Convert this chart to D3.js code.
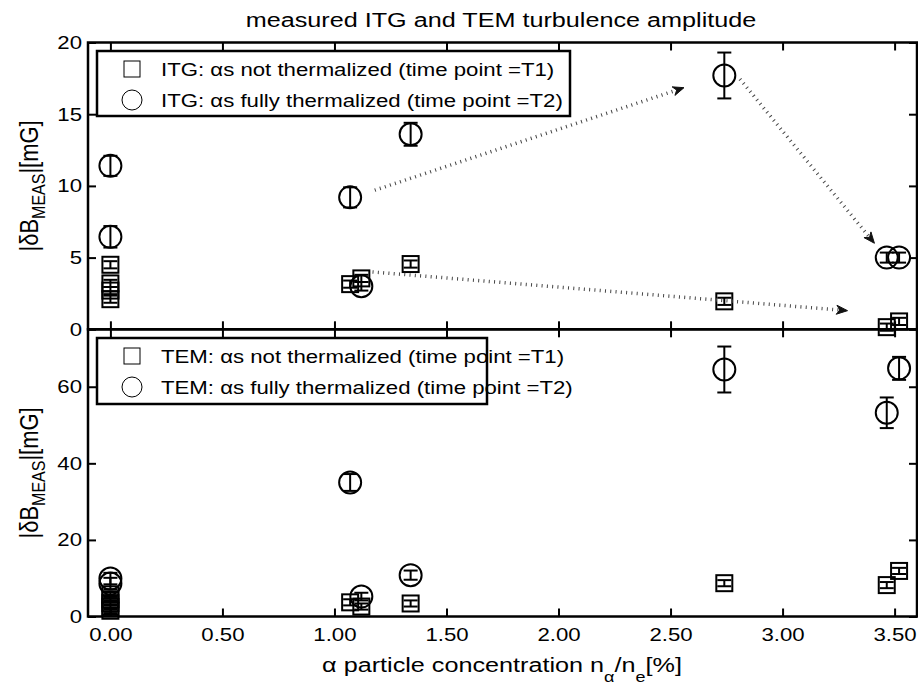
<!DOCTYPE html>
<html><head><meta charset="utf-8">
<script src="https://cdn.jsdelivr.net/npm/d3@7"></script>
<style>body{margin:0;background:#fff}</style>
</head><body>
<script>
// ---------- data ----------
const titleText = "measured ITG and TEM turbulence amplitude";
const xTickValues = [0, 0.5, 1, 1.5, 2, 2.5, 3, 3.5];
const itgTickValues = [0, 5, 10, 15, 20];
const temTickValues = [0, 20, 40, 60];
// [alpha concentration %, |dB| mG, error]
const itgT1 = [[0,4.5,0.25],[0,3.2,0.25],[0,2.7,0.25],[0,2.1,0.25],[1.07,3.15,0.25],[1.12,3.55,0.25],[1.34,4.55,0.25],[2.74,1.95,0.25],[3.465,0.15,0.25],[3.52,0.55,0.25]];
const itgT2 = [[0,11.4,0.7],[0,6.45,0.75],[1.07,9.2,0.7],[1.12,3.0,0.3],[1.34,13.6,0.8],[2.74,17.7,1.6],[3.465,5.0,0.35],[3.52,5.0,0.35]];
const temT1 = [[0,1.5,0.6],[0,2.5,0.6],[0,3.5,0.6],[0,4.5,0.6],[0,5.8,0.6],[1.07,3.7,0.8],[1.12,2.6,0.8],[1.34,3.4,0.8],[2.74,8.7,0.8],[3.465,8.2,0.8],[3.52,11.9,0.8]];
const temT2 = [[0,9.9,1.5],[0,8.6,1.5],[1.07,35.0,2.2],[1.12,5.2,1.0],[1.34,10.8,1.2],[2.74,64.5,6.0],[3.465,53.2,4.0],[3.52,64.8,3.0]];
// arrows in data units [x1,y1,x2,y2]
const itgArrows = [[1.18,9.7,2.56,16.85],[2.81,17.45,3.41,6.0],[1.17,4.0,3.29,1.3]];
const itgLegend = ["ITG: \u03b1s not thermalized (time point =T1)", "ITG: \u03b1s fully thermalized (time point =T2)"];
const temLegend = ["TEM: \u03b1s not thermalized (time point =T1)", "TEM: \u03b1s fully thermalized (time point =T2)"];

// ---------- layout ----------
const W = 918, H = 688, SX = 1.2;
const FONT = "'Liberation Sans', Arial, Helvetica, sans-serif";
const svg = d3.select("body").append("svg").attr("width", W).attr("height", H)
  .style("font-family", FONT);
svg.append("rect").attr("width", W).attr("height", H).attr("fill", "#fff");

const x = d3.scaleLinear().domain([-0.1, 3.6]).range([88, 917]);
const yTop = d3.scaleLinear().domain([0, 20]).range([329.3, 42.5]);
const yBot = d3.scaleLinear().domain([0, 75]).range([616.5, 329.3]);

const panels = [
  {y: yTop, ticks: itgTickValues, t1: itgT1, t2: itgT2, legend: itgLegend, arrows: itgArrows,
   leg: {x: 97, y: 51, w: 473, h: 65}, showX: false},
  {y: yBot, ticks: temTickValues, t1: temT1, t2: temT2, legend: temLegend, arrows: [],
   leg: {x: 97, y: 338, w: 390, h: 66}, showX: true}
];

function styleAxis(g, fs) {
  g.select(".domain").remove();
  g.selectAll(".tick line").attr("stroke", "#000").attr("stroke-width", 2);
  g.selectAll(".tick text").attr("fill", "#000").attr("font-size", fs)
    .attr("font-family", FONT)
    .attr("transform", `scale(${SX},1)`);
}

const CAP = 7;
function errorbars(g, data, y) {
  const eb = g.append("g").attr("stroke", "#000").attr("stroke-width", 2).attr("fill", "none");
  data.forEach(d => {
    const cx = x(d[0]), y1 = y(d[1] - d[2]), y2 = y(d[1] + d[2]);
    eb.append("line").attr("x1", cx).attr("x2", cx).attr("y1", y1).attr("y2", y2);
    eb.append("line").attr("x1", cx - CAP).attr("x2", cx + CAP).attr("y1", y1).attr("y2", y1);
    eb.append("line").attr("x1", cx - CAP).attr("x2", cx + CAP).attr("y1", y2).attr("y2", y2);
  });
}

panels.forEach(p => {
  const [yb, yt] = p.y.range();
  const g = svg.append("g");
  const ab = g.append("g").attr("transform", `translate(0,${yb})`)
    .call(d3.axisBottom(x).tickValues(xTickValues).tickSize(-8).tickPadding(11)
      .tickFormat(p.showX ? d3.format(".2f") : ""));
  styleAxis(ab, 18.5);
  const at = g.append("g").attr("transform", `translate(0,${yt})`)
    .call(d3.axisTop(x).tickValues(xTickValues).tickSize(-8).tickFormat(""));
  styleAxis(at, 18.5);
  const al = g.append("g").attr("transform", `translate(${x.range()[0]},0)`)
    .call(d3.axisLeft(p.y).tickValues(p.ticks).tickSize(-8).tickPadding(5).tickFormat(d3.format("d")));
  styleAxis(al, 18.5);
  const ar = g.append("g").attr("transform", `translate(${x.range()[1]},0)`)
    .call(d3.axisRight(p.y).tickValues(p.ticks).tickSize(-8).tickFormat(""));
  styleAxis(ar, 18.5);
  g.append("rect").attr("x", x.range()[0]).attr("y", yt)
    .attr("width", x.range()[1] - x.range()[0]).attr("height", yb - yt)
    .attr("fill", "none").attr("stroke", "#000").attr("stroke-width", 2.5);

  errorbars(g, p.t1, p.y);
  errorbars(g, p.t2, p.y);
  g.append("g").selectAll("rect").data(p.t1).join("rect")
    .attr("x", d => x(d[0]) - 8).attr("y", d => p.y(d[1]) - 8)
    .attr("width", 16).attr("height", 16)
    .attr("fill", "none").attr("stroke", "#000").attr("stroke-width", 2);
  g.append("g").selectAll("circle").data(p.t2).join("circle")
    .attr("cx", d => x(d[0])).attr("cy", d => p.y(d[1])).attr("r", 11)
    .attr("fill", "none").attr("stroke", "#000").attr("stroke-width", 2);

  p.arrows.forEach(a => {
    const x1 = x(a[0]), y1 = p.y(a[1]), x2 = x(a[2]), y2 = p.y(a[3]);
    const dx = x2 - x1, dy = y2 - y1, L = Math.hypot(dx, dy);
    const ux = dx / L, uy = dy / L, nx = -uy, ny = ux;
    const hl = 11, hw = 4.5;
    g.append("line").attr("x1", x1).attr("y1", y1)
      .attr("x2", x2 - ux * hl * 0.6).attr("y2", y2 - uy * hl * 0.6)
      .attr("stroke", "#444").attr("stroke-width", 3.5).attr("stroke-dasharray", "1,4.3");
    const bx = x2 - ux * hl, by = y2 - uy * hl;
    const ncx = x2 - ux * hl * 0.7, ncy = y2 - uy * hl * 0.7;
    g.append("path")
      .attr("d", `M${x2},${y2}L${bx + nx * hw},${by + ny * hw}L${ncx},${ncy}L${bx - nx * hw},${by - ny * hw}Z`)
      .attr("fill", "#111").attr("stroke", "#111").attr("stroke-width", 1);
  });

  const lg = g.append("g");
  lg.append("rect").attr("x", p.leg.x).attr("y", p.leg.y).attr("width", p.leg.w).attr("height", p.leg.h)
    .attr("fill", "#fff").attr("stroke", "#000").attr("stroke-width", 2.5);
  const r1 = p.leg.y + 18, r2 = p.leg.y + 49;
  lg.append("rect").attr("x", 132 - 8).attr("y", r1 - 8).attr("width", 16).attr("height", 16)
    .attr("fill", "none").attr("stroke", "#000").attr("stroke-width", 1);
  lg.append("circle").attr("cx", 132).attr("cy", r2).attr("r", 10)
    .attr("fill", "none").attr("stroke", "#000").attr("stroke-width", 1);
  [r1, r2].forEach((ry, i) => {
    lg.append("text").attr("transform", `translate(161,${ry + 6.5}) scale(${SX},1)`)
      .attr("font-size", 18.5).attr("fill", "#000").text(p.legend[i]);
  });

  const yc = (yt + yb) / 2;
  const yl = svg.append("text")
    .attr("transform", `translate(37.5,${yc}) scale(${SX},1) rotate(-90)`)
    .attr("text-anchor", "middle").attr("font-size", 22).attr("fill", "#000");
  yl.append("tspan").text("|\u03b4B");
  yl.append("tspan").attr("font-size", 16).attr("dy", 6).text("MEAS");
  yl.append("tspan").attr("dy", -6).text("|[mG]");
});

svg.append("text").attr("transform", `translate(501,26.5) scale(${SX},1)`)
  .attr("text-anchor", "middle").attr("font-size", 21).attr("fill", "#000").text(titleText);

const xl = svg.append("text").attr("transform", `translate(502,672) scale(${SX},1)`)
  .attr("text-anchor", "middle").attr("font-size", 21).attr("fill", "#000");
xl.append("tspan").text("\u03b1 particle concentration n");
xl.append("tspan").attr("font-size", 15).attr("dy", 10).text("\u03b1");
xl.append("tspan").attr("dy", -10).text("/n");
xl.append("tspan").attr("font-size", 15).attr("dy", 10).text("e");
xl.append("tspan").attr("dy", -10).text("[%]");
</script>
</body></html>
